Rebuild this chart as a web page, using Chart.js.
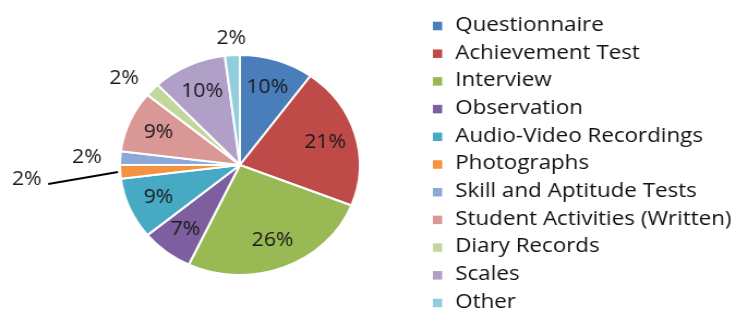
<!DOCTYPE html>
<html>
<head>
<meta charset="utf-8">
<script src="https://cdn.jsdelivr.net/npm/chart.js@4"></script>
<style>
html,body{margin:0;padding:0;background:#fff;overflow:hidden;}
#wrap{position:relative;width:736px;height:313px;overflow:hidden;}
#stretch{position:absolute;left:0;top:0;width:675px;height:313px;transform:scaleX(1.0904);transform-origin:0 0;}
</style>
</head>
<body>
<div id="wrap"><div id="stretch"><canvas id="c" width="675" height="313"></canvas></div></div>
<script>
const categories = ["Questionnaire","Achievement Test","Interview","Observation","Audio-Video Recordings","Photographs","Skill and Aptitude Tests","Student Activities (Written)","Diary Records","Scales","Other"];
const values = [10,21,26,7,9,2,2,9,2,10,2];
const valueLabels = ["10%","21%","26%","7%","9%","2%","2%","9%","2%","10%","2%"];
const colors = ["#4A7EBB","#BE4B48","#98B954","#7D5FA0","#46AAC5","#F59240","#8EA9D8","#D99795","#C3D69B","#B0A0C8","#92CDDC"];

const FONT = "'Open Sans', sans-serif";

const labelPlugin = {
  id: 'sliceLabels',
  afterDatasetsDraw(chart, args, opts) {
    const ctx = chart.ctx;
    const meta = chart.getDatasetMeta(0);
    ctx.save();
    ctx.font = opts.fontSize + "px " + FONT;
    ctx.fillStyle = "#1a1a1a";
    ctx.textBaseline = "middle";
    meta.data.forEach((arc, i) => {
      const p = arc.getProps(['x','y','startAngle','endAngle','outerRadius'], true);
      const mid = (p.startAngle + p.endAngle) / 2;
      const cx = Math.cos(mid), cy = Math.sin(mid);
      const txt = valueLabels[i];
      if (values[i] >= opts.insideMin) {
        const r = p.outerRadius * opts.insideRatio;
        ctx.textAlign = "center";
        ctx.fillText(txt, p.x + cx * r, p.y + cy * r);
      } else if (i === opts.calloutIndex) {
        const sx = p.x + cx * (p.outerRadius + 2), sy = p.y + cy * (p.outerRadius + 2);
        const ex = sx - opts.calloutDx, ey = sy + opts.calloutDy;
        ctx.strokeStyle = "#000"; ctx.lineWidth = 2;
        ctx.beginPath(); ctx.moveTo(sx, sy); ctx.lineTo(ex, ey); ctx.stroke();
        ctx.textAlign = "right";
        ctx.fillText(txt, ex - 6, ey - 5);
      } else {
        const r = p.outerRadius + opts.outsideGap;
        const x = p.x + cx * r, y = p.y + cy * r;
        ctx.textAlign = Math.abs(cx) < 0.3 ? "center" : (cx < 0 ? "right" : "left");
        ctx.fillText(txt, x, y);
      }
    });
    ctx.restore();
  }
};

const legendPlugin = {
  id: 'sideLegend',
  afterDraw(chart, args, opts) {
    const ctx = chart.ctx;
    ctx.save();
    ctx.font = opts.fontSize + "px " + FONT;
    ctx.textBaseline = "middle";
    ctx.textAlign = "left";
    chart.data.labels.forEach((lab, i) => {
      const y = opts.top + i * opts.rowH;
      ctx.fillStyle = chart.data.datasets[0].backgroundColor[i];
      ctx.fillRect(opts.left, y - opts.box / 2 + 1, opts.box, opts.box);
      ctx.fillStyle = "#111";
      ctx.fillText(lab, opts.textX, y);
    });
    ctx.restore();
  }
};

new Chart(document.getElementById('c'), {
  type: 'pie',
  data: {
    labels: categories,
    datasets: [{
      data: values,
      backgroundColor: colors,
      borderColor: "#ffffff",
      borderWidth: 2
    }]
  },
  options: {
    responsive: false,
    animation: false,
    events: [],
    layout: { padding: { left: 109, right: 344, top: 54, bottom: 37 } },
    plugins: {
      legend: { display: false },
      tooltip: { enabled: false },
      sliceLabels: { fontSize: 19.5, insideMin: 5, insideRatio: 0.74, outsideGap: 17, calloutIndex: 5, calloutDx: 64, calloutDy: 12 },
      sideLegend: { left: 397, textX: 417.5, top: 25, rowH: 27.7, box: 8.5, fontSize: 20.5 }
    }
  },
  plugins: [labelPlugin, legendPlugin]
});
</script>
</body>
</html>
